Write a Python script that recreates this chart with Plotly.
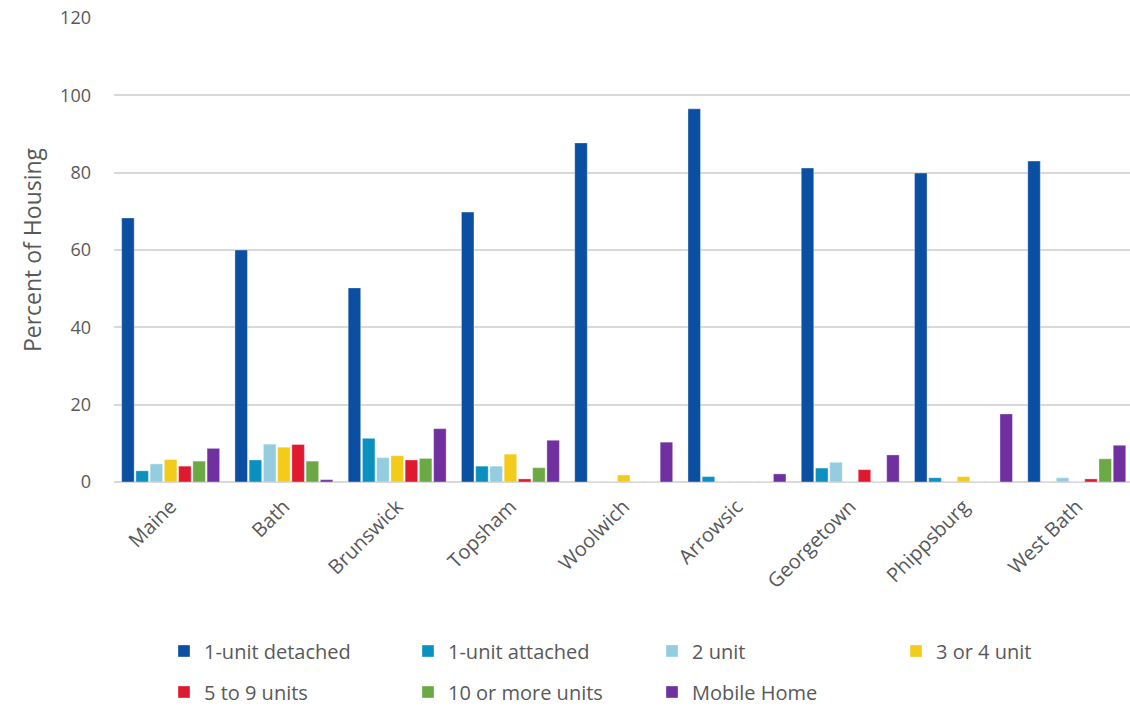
import plotly.graph_objects as go

places = ["Maine", "Bath", "Brunswick", "Topsham", "Woolwich",
          "Arrowsic", "Georgetown", "Phippsburg", "West Bath"]

unit_detached = [68.3, 60.0, 50.2, 69.8, 87.7, 96.5, 81.2, 79.9, 83.0]
unit_attached = [2.9, 5.7, 11.3, 4.1, 0.0, 1.4, 3.6, 1.1, 0.0]
two_unit = [4.7, 9.8, 6.3, 4.1, 0.0, 0.0, 5.1, 0.0, 1.1]
three_four_unit = [5.8, 9.0, 6.8, 7.2, 1.8, 0.0, 0.0, 1.4, 0.0]
five_nine_units = [4.1, 9.7, 5.7, 0.8, 0.0, 0.0, 3.2, 0.0, 0.8]
ten_plus_units = [5.4, 5.4, 6.1, 3.7, 0.0, 0.0, 0.0, 0.0, 6.0]
mobile_home = [8.7, 0.6, 13.8, 10.8, 10.3, 2.1, 7.0, 17.6, 9.5]

series = [
    ("1-unit detached", unit_detached, "#0B4FA2", "legend"),
    ("1-unit attached", unit_attached, "#0A91C0", "legend"),
    ("2 unit", two_unit, "#94CDE0", "legend"),
    ("3 or 4 unit", three_four_unit, "#F3CB1A", "legend"),
    ("5 to 9 units", five_nine_units, "#DF1A30", "legend2"),
    ("10 or more units", ten_plus_units, "#6BA944", "legend2"),
    ("Mobile Home", mobile_home, "#7030A0", "legend2"),
]

FONT = "Open Sans"
GREY = "#595959"

fig = go.Figure()
for name, vals, color, leg in series:
    fig.add_trace(go.Bar(
        x=places, y=vals, name=name, legend=leg,
        marker=dict(color=color, line=dict(color="rgba(255,255,255,0.6)", width=0.6)),
    ))

legend_style = dict(
    orientation="h", xref="container", yref="container",
    xanchor="left", yanchor="middle",
    entrywidth=199, entrywidthmode="pixels",
    font=dict(family=FONT, size=20, color=GREY),
    bgcolor="rgba(0,0,0,0)", borderwidth=0, itemclick=False,
)

fig.update_layout(
    width=1130, height=708,
    margin=dict(l=114, r=0, t=18, b=226),
    paper_bgcolor="white", plot_bgcolor="white",
    barmode="group", bargap=0.12, bargroupgap=0.12,
    font=dict(family=FONT, color=GREY),
    legend=dict(x=164 / 1130, y=1 - 651 / 708, **legend_style),
    legend2=dict(x=164 / 1130, y=1 - 692 / 708, **legend_style),
    xaxis=dict(
        range=[-0.5, 8.47], showgrid=False, showline=False, zeroline=False,
        tickangle=-45, tickfont=dict(family=FONT, size=20, color=GREY),
        ticklabelstandoff=8,
    ),
    yaxis=dict(
        range=[0, 120], dtick=20, showgrid=True, gridcolor="#D9D9D9", gridwidth=1.5,
        zeroline=True, zerolinecolor="#D9D9D9", zerolinewidth=1.5, showline=False,
        tickfont=dict(family=FONT, size=18, color=GREY), ticklabelstandoff=22,
        title=dict(text="Percent of Housing", font=dict(family=FONT, size=23, color=GREY),
                   standoff=12),
    ),
)

fig.write_html("out.html")
